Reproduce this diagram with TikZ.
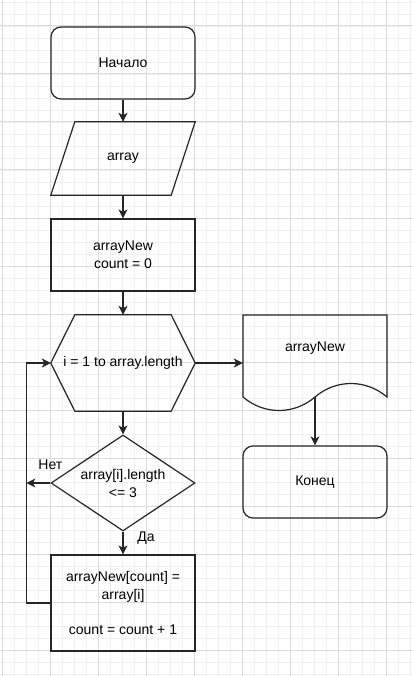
\documentclass[tikz,border=0pt]{standalone}
\usepackage{fontspec}
\setmainfont{Liberation Sans}
\usetikzlibrary{arrows.meta,shapes.geometric}

\tikzset{
	block/.style={draw=black!85, line width=1.2pt, minimum width=144pt, minimum height=#1, align=center},
	block/.default=72pt,
	term/.style={block, rounded corners=10pt},
	bare/.style={minimum width=144pt, minimum height=#1, align=center},
	flow/.style={draw=black!85, line width=1.2pt, -{Stealth[length=9pt,width=9pt,inset=2.5pt]}},
	outline/.style={draw=black!85, line width=1.2pt, line join=miter}
}

\begin{document}
\begin{tikzpicture}[x=1pt, y=-1pt, font=\fontsize{14}{18}\selectfont]
	\useasboundingbox (0,0) rectangle (412,676);
	\fill[white] (0,0) rectangle (412,676);
	% grid
	\foreach \x in {2,14,...,410}
		\draw[black!6, line width=0.8pt] (\x,0) -- (\x,676);
	\foreach \y in {2,14,...,674}
		\draw[black!6, line width=0.8pt] (0,\y) -- (412,\y);
	\foreach \x in {2,50,...,410}
		\draw[black!14, line width=1pt] (\x,0) -- (\x,676);
	\foreach \y in {26,74,...,674}
		\draw[black!14, line width=1pt] (0,\y) -- (412,\y);

	\node[term] (start) at (123,63) {Начало};
	\node[bare=73pt] (input) at (123,158.5) {array};
	\draw[outline] ([xshift=24pt]input.north west) -- (input.north east) -- ([xshift=-24pt]input.south east) -- (input.south west) -- cycle;
	\node[block] (init) at (123,255) {arrayNew\\count = 0};
	\node[bare=96pt] (loop) at (123,363) {i = 1 to array.length};
	\draw[outline] ([xshift=24pt]loop.north west) -- ([xshift=-24pt]loop.north east) -- (loop.east) -- ([xshift=-24pt]loop.south east) -- ([xshift=24pt]loop.south west) -- (loop.west) -- cycle;
	\node[diamond, draw=black!85, line width=1.2pt, aspect=1.5, inner sep=0pt, minimum width=144pt, minimum height=96pt, align=center] (cond) at (123,483) {array[i].length\\<= 3};
	\node[block=96pt] (body) at (123,603) {arrayNew[count] =\\array[i]\\[17pt]count = count + 1};

	% output and end
	\node[bare=66pt] (out) at (315,348) {arrayNew};
	\draw[outline] (243,397) -- (243,315) -- (387,315) -- (387,397) .. controls (366,379) and (336,379) .. (315,397) .. controls (294,415) and (264,415) .. (243,397);
	\coordinate (outb) at (315,397);
	\node[term] (end) at (315,482) {Конец};

	\draw[flow] (start) -- (input);
	\draw[flow] (input) -- (init);
	\draw[flow] (init) -- (loop.north);
	\draw[flow] (loop) -- (cond);
	\draw[flow] (cond) -- (body);
	\draw[flow] (loop.east) -- (loop.east -| out.west);
	\draw[flow] (outb) -- (end);
	\draw[flow] (cond.west) -- ++(-24,0);
	\draw[flow] (body.west) -- ++(-24,0) |- (loop.west);
	\node (no) at ([yshift=18pt]cond.west) {Нет};
	\node (yes) at ([xshift=23pt,yshift=-6pt]cond.south) {Да};
\end{tikzpicture}
\end{document}
